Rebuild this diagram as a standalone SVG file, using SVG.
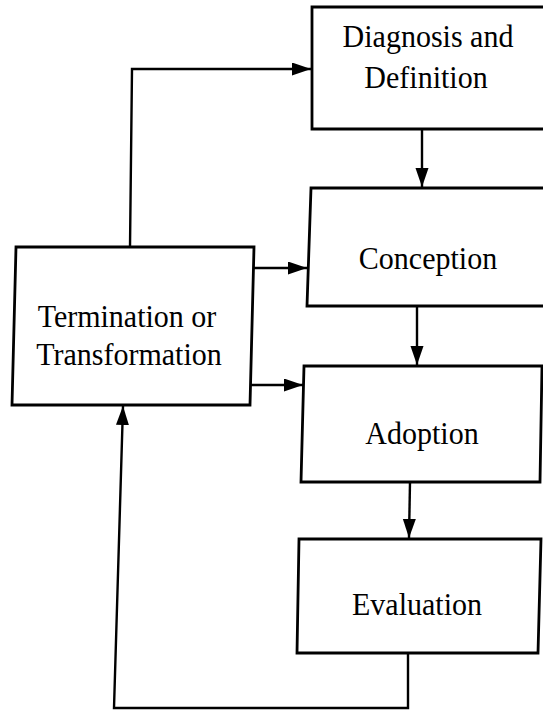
<svg xmlns="http://www.w3.org/2000/svg" width="543" height="710" viewBox="0 0 543 710">
  <style>
    .box { fill: #ffffff; stroke: #000000; stroke-width: 2.8; stroke-linejoin: miter; }
    .label { font-family: "Liberation Serif", "Times New Roman", serif; font-size: 30px; fill: #000000; text-anchor: middle; }
    .wire { fill: none; stroke: #000000; stroke-width: 2.4; stroke-linejoin: miter; }
  </style>
  <defs>
    <marker id="head" markerUnits="userSpaceOnUse" markerWidth="20" markerHeight="14" refX="19" refY="6.5" orient="auto">
      <path d="M0,0 L19,6.5 L0,13 Z" fill="#000000"/>
    </marker>
  </defs>

  <rect x="0" y="0" width="543" height="710" fill="#ffffff"/>

  <!-- connectors -->
  <g id="connectors">
    <path class="wire" d="M130,247 L132,69 L311,69" marker-end="url(#head)"/>
    <path class="wire" d="M422,129 L422,187" marker-end="url(#head)"/>
    <path class="wire" d="M254,268 L307,268" marker-end="url(#head)"/>
    <path class="wire" d="M250,385 L303,385" marker-end="url(#head)"/>
    <path class="wire" d="M417,306 L417,365" marker-end="url(#head)"/>
    <path class="wire" d="M410,482 L409,538" marker-end="url(#head)"/>
    <path class="wire" d="M408,653 L408,708 L114,708 L123,406" marker-end="url(#head)"/>
  </g>

  <!-- process stages; labels are stretched slightly upright from their baselines -->
  <g id="diagnosis">
    <polygon class="box" points="312,7 552,7 552,129 312,129"/>
    <text class="label" transform="translate(428,47) scale(1,1.08)">Diagnosis and</text>
    <text class="label" transform="translate(426,88) scale(1,1.08)">Definition</text>
  </g>

  <g id="conception">
    <polygon class="box" points="311,188 552,188 552,306 307,306"/>
    <text class="label" transform="translate(428,269) scale(1,1.08)">Conception</text>
  </g>

  <g id="termination">
    <polygon class="box" points="16,247 254,247 250,405 12,405"/>
    <text class="label" transform="translate(127,327) scale(1,1.08)">Termination or</text>
    <text class="label" transform="translate(129,365) scale(1,1.08)">Transformation</text>
  </g>

  <g id="adoption">
    <polygon class="box" points="304,366 542,366 540,482 301,482"/>
    <text class="label" transform="translate(422,444) scale(1,1.08)">Adoption</text>
  </g>

  <g id="evaluation">
    <polygon class="box" points="299,539 541,539 538,653 297,653"/>
    <text class="label" transform="translate(417,615) scale(1,1.08)">Evaluation</text>
  </g>
</svg>
